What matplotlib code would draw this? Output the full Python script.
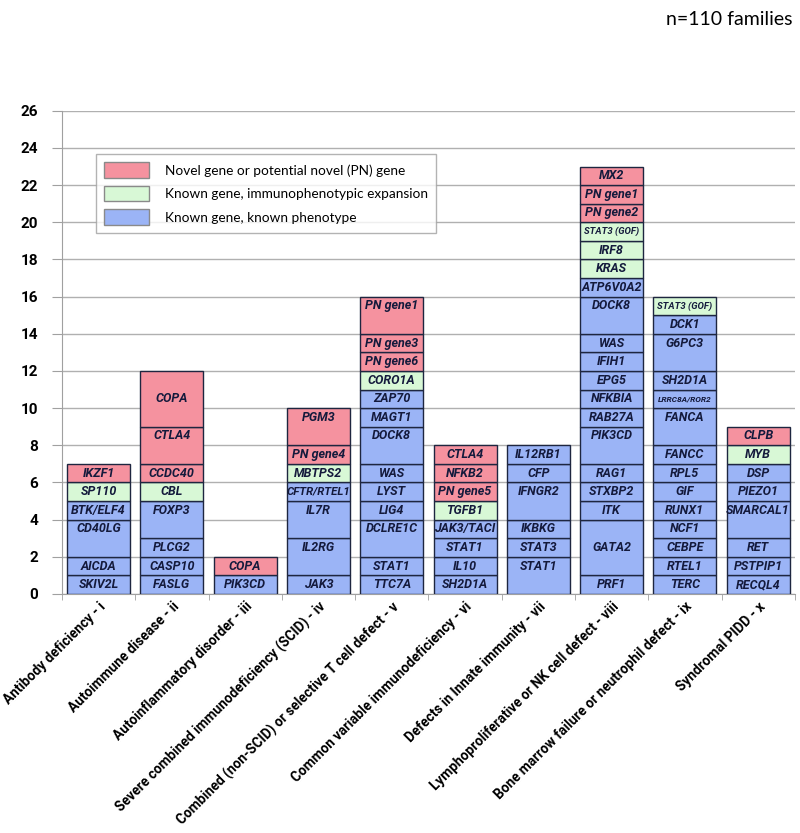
import numpy as np
import matplotlib
matplotlib.use('Agg')
from matplotlib import pyplot as plt
from matplotlib.patches import Patch

categories = ['Antibody deficiency - i', 'Autoimmune disease - ii',
              'Autoinflammatory disorder - iii',
              'Severe combined immunodeficiency (SCID) - iv',
              'Combined (non-SCID) or selective T cell defect - v',
              'Common variable immunodeficiency - vi',
              'Defects in Innate immunity - vii',
              'Lymphoproliferative or NK cell defect - viii',
              'Bone marrow failure or neutrophil defect - ix',
              'Syndromal PIDD - x']

# segments bottom -> top: (gene, families, kind) kind: b=known, g=expansion, r=novel
genes = [
    [('SKIV2L', 1, 'b'), ('AICDA', 1, 'b'), ('CD40LG', 2, 'b'), ('BTK/ELF4', 1, 'b'),
     ('SP110', 1, 'g'), ('IKZF1', 1, 'r')],
    [('FASLG', 1, 'b'), ('CASP10', 1, 'b'), ('PLCG2', 1, 'b'), ('FOXP3', 2, 'b'),
     ('CBL', 1, 'g'), ('CCDC40', 1, 'r'), ('CTLA4', 2, 'r'), ('COPA', 3, 'r')],
    [('PIK3CD', 1, 'b'), ('COPA', 1, 'r')],
    [('JAK3', 1, 'b'), ('IL2RG', 2, 'b'), ('IL7R', 2, 'b'), ('CFTR/RTEL1', 1, 'b'),
     ('MBTPS2', 1, 'g'), ('PN gene4', 1, 'r'), ('PGM3', 2, 'r')],
    [('TTC7A', 1, 'b'), ('STAT1', 1, 'b'), ('DCLRE1C', 2, 'b'), ('LIG4', 1, 'b'),
     ('LYST', 1, 'b'), ('WAS', 1, 'b'), ('DOCK8', 2, 'b'), ('MAGT1', 1, 'b'),
     ('ZAP70', 1, 'b'), ('CORO1A', 1, 'g'), ('PN gene6', 1, 'r'), ('PN gene3', 1, 'r'),
     ('PN gene1', 2, 'r')],
    [('SH2D1A', 1, 'b'), ('IL10', 1, 'b'), ('STAT1', 1, 'b'), ('JAK3/TACI', 1, 'b'),
     ('TGFB1', 1, 'g'), ('PN gene5', 1, 'r'), ('NFKB2', 1, 'r'), ('CTLA4', 1, 'r')],
    [('STAT1', 2, 'b'), ('STAT3', 1, 'b'), ('IKBKG', 1, 'b'), ('IFNGR2', 2, 'b'),
     ('CFP', 1, 'b'), ('IL12RB1', 1, 'b')],
    [('PRF1', 1, 'b'), ('GATA2', 3, 'b'), ('ITK', 1, 'b'), ('STXBP2', 1, 'b'),
     ('RAG1', 1, 'b'), ('PIK3CD', 2, 'b'), ('RAB27A', 1, 'b'), ('NFKBIA', 1, 'b'),
     ('EPG5', 1, 'b'), ('IFIH1', 1, 'b'), ('WAS', 1, 'b'), ('DOCK8', 2, 'b'),
     ('ATP6V0A2', 1, 'b'), ('KRAS', 1, 'g'), ('IRF8', 1, 'g'), ('STAT3 (GOF)', 1, 'g'),
     ('PN gene2', 1, 'r'), ('PN gene1', 1, 'r'), ('MX2', 1, 'r')],
    [('TERC', 1, 'b'), ('RTEL1', 1, 'b'), ('CEBPE', 1, 'b'), ('NCF1', 1, 'b'),
     ('RUNX1', 1, 'b'), ('GIF', 1, 'b'), ('RPL5', 1, 'b'), ('FANCC', 1, 'b'),
     ('FANCA', 2, 'b'), ('LRRC8A/ROR2', 1, 'b'), ('SH2D1A', 1, 'b'), ('G6PC3', 2, 'b'),
     ('DCK1', 1, 'b'), ('STAT3 (GOF)', 1, 'g')],
    [('RECQL4', 1, 'b'), ('PSTPIP1', 1, 'b'), ('RET', 1, 'b'), ('SMARCAL1', 2, 'b'),
     ('PIEZO1', 1, 'b'), ('DSP', 1, 'b'), ('MYB', 1, 'g'), ('CLPB', 1, 'r')],
]

legend_labels = ['Novel gene or potential novel (PN) gene',
                 'Known gene, immunophenotypic expansion',
                 'Known gene, known phenotype']
colors = {'r': '#f5929f', 'g': '#d8f8d6', 'b': '#9bb4f6'}
edge = '#1e2640'

plt.rcParams['font.family'] = ['Lato', 'DejaVu Sans']
bold_font = ['Roboto', 'DejaVu Sans']

fig = plt.figure(figsize=(8, 8.33), dpi=100)
ax = fig.add_axes([0.0775, 0.287, 0.916, 0.58])

x = np.arange(len(categories))
for i, col in enumerate(genes):
    bottom = 0
    for name, h, kind in col:
        ax.bar(x[i], h, bottom=bottom, width=0.86, color=colors[kind],
               edgecolor=edge, linewidth=1.0, zorder=3)
        if h == 2:
            ty = bottom + h - 0.5
        else:
            ty = bottom + h / 2
        fs = 9
        if len(name) >= 11:
            fs = 6.8 if name.startswith('STAT3') else 6.0
        elif len(name) >= 10:
            fs = 8.2
        ax.text(x[i], ty, name, ha='center', va='center', fontsize=fs, family=bold_font,
                fontweight='bold', fontstyle='italic', color='#141a3c', zorder=4)
        bottom += h

ax.set_xlim(-0.5, len(categories) - 0.5)
ax.set_ylim(0, 26)
ax.set_yticks(np.arange(0, 27, 2))
ax.set_yticklabels([str(v) for v in range(0, 27, 2)], fontweight='bold', fontsize=11,
                   family=bold_font)
ax.yaxis.grid(True, color='#b0b0b0', linewidth=1.0, zorder=0)
ax.set_axisbelow(True)

ax.set_xticks(x)
ax.set_xticklabels(categories, rotation=45, ha='right', rotation_mode='anchor',
                   fontsize=9.8, fontweight='bold', family=bold_font)
ax.set_xticks(np.arange(-0.5, len(categories), 1), minor=True)
ax.tick_params(axis='x', which='major', length=0, pad=4)
ax.tick_params(axis='x', which='minor', length=4, color='#a0a0a0')
ax.tick_params(axis='y', length=7, color='#a0a0a0', pad=10)

for s in ['top', 'right']:
    ax.spines[s].set_visible(False)
for s in ['left', 'bottom']:
    ax.spines[s].set_color('#a0a0a0')

handles = [Patch(facecolor=colors[k], edgecolor='#8a8a8a', linewidth=1.0) for k in ['r', 'g', 'b']]
leg = ax.legend(handles, legend_labels, loc='upper left', bbox_to_anchor=(0.046, 0.91),
                fontsize=9.8, frameon=True, fancybox=False, handlelength=3.3,
                handleheight=1.35, labelspacing=0.6, borderpad=0.6, handletextpad=1.2,
                borderaxespad=0)
leg.get_frame().set_edgecolor('#a0a0a0')
leg.get_frame().set_linewidth(1.0)

fig.text(0.99, 0.976, 'n=110 families', ha='right', va='center', fontsize=14)

fig.savefig('out.png', dpi=100)
